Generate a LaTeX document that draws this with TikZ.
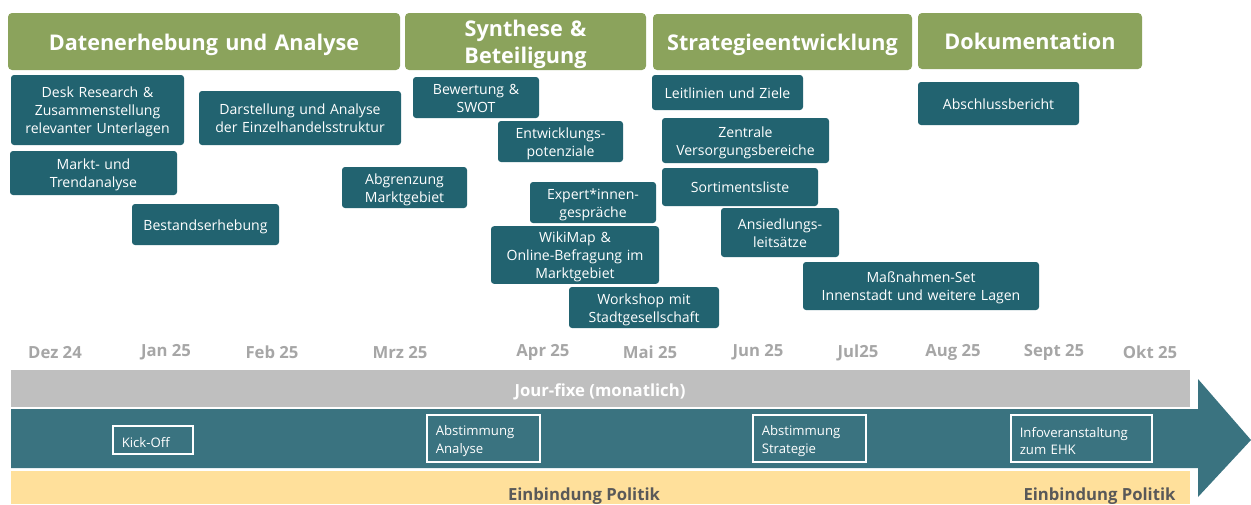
\documentclass[tikz,border=0pt]{standalone}
\usepackage{fontspec}
\setmainfont{Open Sans}
\newlength\px
\setlength\px{0.02cm}
\definecolor{phasegreen}{RGB}{139,163,92}
\definecolor{taskteal}{RGB}{34,99,112}
\definecolor{bandteal}{RGB}{58,115,128}
\definecolor{bandgrey}{RGB}{191,191,191}
\definecolor{bandyellow}{RGB}{255,224,155}
\definecolor{monthgrey}{RGB}{166,166,166}
\definecolor{textgrey}{RGB}{89,89,89}
\tikzset{
    phase/.style 2 args = {fill=phasegreen, rounded corners=4\px, text=white, align=center,
        text width=#1\px, minimum height=#2\px, inner sep=0pt,
        font=\fontsize{12.3}{15.4}\selectfont\bfseries,
        execute at begin node={\rule{0pt}{12.8pt}},
        execute at end node={\rule[-3pt]{0pt}{3pt}}},
    task/.style 2 args = {fill=taskteal, rounded corners=3\px, text=white, align=center,
        text width=#1\px-2pt, minimum height=#2\px, inner sep=1pt,
        font=\fontsize{8}{10.2}\selectfont,
        execute at begin node={\rule{0pt}{8.4pt}},
        execute at end node={\rule[-2pt]{0pt}{2pt}}},
    milestone/.style 2 args = {draw=white, line width=1.2\px, text=white, align=left,
        text width=#1\px-10pt, minimum height=#2\px, inner xsep=5pt, inner ysep=0pt,
        font=\fontsize{7.5}{10.2}\selectfont,
        execute at begin node={\rule{0pt}{8.6pt}}},
    month/.style = {text=monthgrey, font=\fontsize{9.5}{11}\selectfont\bfseries},
    bandtext/.style = {font=\fontsize{9.5}{11}\selectfont\bfseries}
}
\begin{document}
\begin{tikzpicture}[x=1\px,y=-1\px]
            \useasboundingbox (0,0) rectangle (1251,504);
            % Phasen
            \node (datenerhebung) at (204,41.5) [phase={392}{57}] {Datenerhebung und Analyse};
            \node (synthese) at (525.5,41.5) [phase={241}{57}] {Synthese \&\\Beteiligung};
            \node (strategie) at (782.5,42) [phase={259}{56}] {Strategieentwicklung};
            \node (doku) at (1030,41) [phase={224}{56}] {Dokumentation};
            % Arbeitsschritte
            \node (desk) at (97.5,110) [task={173}{70}] {Desk Research \&\\Zusammenstellung\\relevanter Unterlagen};
            \node (darstellung) at (300,118) [task={202}{54}] {Darstellung und Analyse\\der Einzelhandelsstruktur};
            \node (markt) at (93.5,173) [task={167}{44}] {Markt- und\\Trendanalyse};
            \node (bestand) at (205.5,224.5) [task={147}{41}] {Bestandserhebung};
            \node (abgrenzung) at (404.5,187.5) [task={125}{41}] {Abgrenzung\\Marktgebiet};
            \node (swot) at (476,97.5) [task={126}{41}] {Bewertung \&\\SWOT};
            \node (potenziale) at (560.5,141.5) [task={125}{41}] {Entwicklungs-\\potenziale};
            \node (experten) at (593,202.5) [task={126}{41}] {Expert*innen-\\gespräche};
            \node (wikimap) at (575,255) [task={168}{56}] {WikiMap \&\\Online-Befragung im\\Marktgebiet};
            \node (workshop) at (644,307.5) [task={150}{41}] {Workshop mit\\Stadtgesellschaft};
            \node (leitlinien) at (727.5,92.5) [task={151}{35}] {Leitlinien und Ziele};
            \node (zvb) at (745.5,140.5) [task={167}{45}] {Zentrale\\Versorgungsbereiche};
            \node (sortiment) at (740,187) [task={156}{38}] {Sortimentsliste};
            \node (leitsaetze) at (780,232.5) [task={118}{49}] {Ansiedlungs-\\leitsätze};
            \node (massnahmen) at (921,286) [task={236}{48}] {Maßnahmen-Set\\Innenstadt und weitere Lagen};
            \node (bericht) at (998.5,103.5) [task={161}{43}] {Abschlussbericht};
            % Zeitachse
            \foreach \x/\m in {55/Dez 24,166/Jan 25,272/Feb 25,400/Mrz 25,543/Apr 25,650/Mai 25,
                758/Jun 25,858/Jul25,953/Aug 25,1054/Sept 25,1150/Okt 25}
                \node [month] at (\x,352.5) {\m};
            \fill [bandgrey] (11,370) rectangle (1190,407);
            \fill [bandteal] (11,409) -- (1198,409) -- (1198,379) -- (1251,440) -- (1198,497) -- (1198,468) -- (11,468) -- cycle;
            \fill [bandyellow] (11,471) rectangle (1190,504);
            \node (jourfixe) at (600,391.5) [bandtext, text=white] {Jour-fixe (monatlich)};
            \node (politikA) at (584,496) [bandtext, text=textgrey] {Einbindung Politik};
            \node (politikB) at (1099.5,496) [bandtext, text=textgrey] {Einbindung Politik};
            % Termine
            \node (kickoff) at (153,440) [milestone={80}{28}] {Kick-Off};
            \node (abstanalyse) at (483.5,438.5) [milestone={113}{47}] {Abstimmung\\Analyse};
            \node (abststrategie) at (809.5,438.5) [milestone={113}{47}] {Abstimmung\\Strategie};
            \node (info) at (1081.5,438.5) [milestone={141}{47}] {Infoveranstaltung\\zum EHK};
\end{tikzpicture}
\end{document}
